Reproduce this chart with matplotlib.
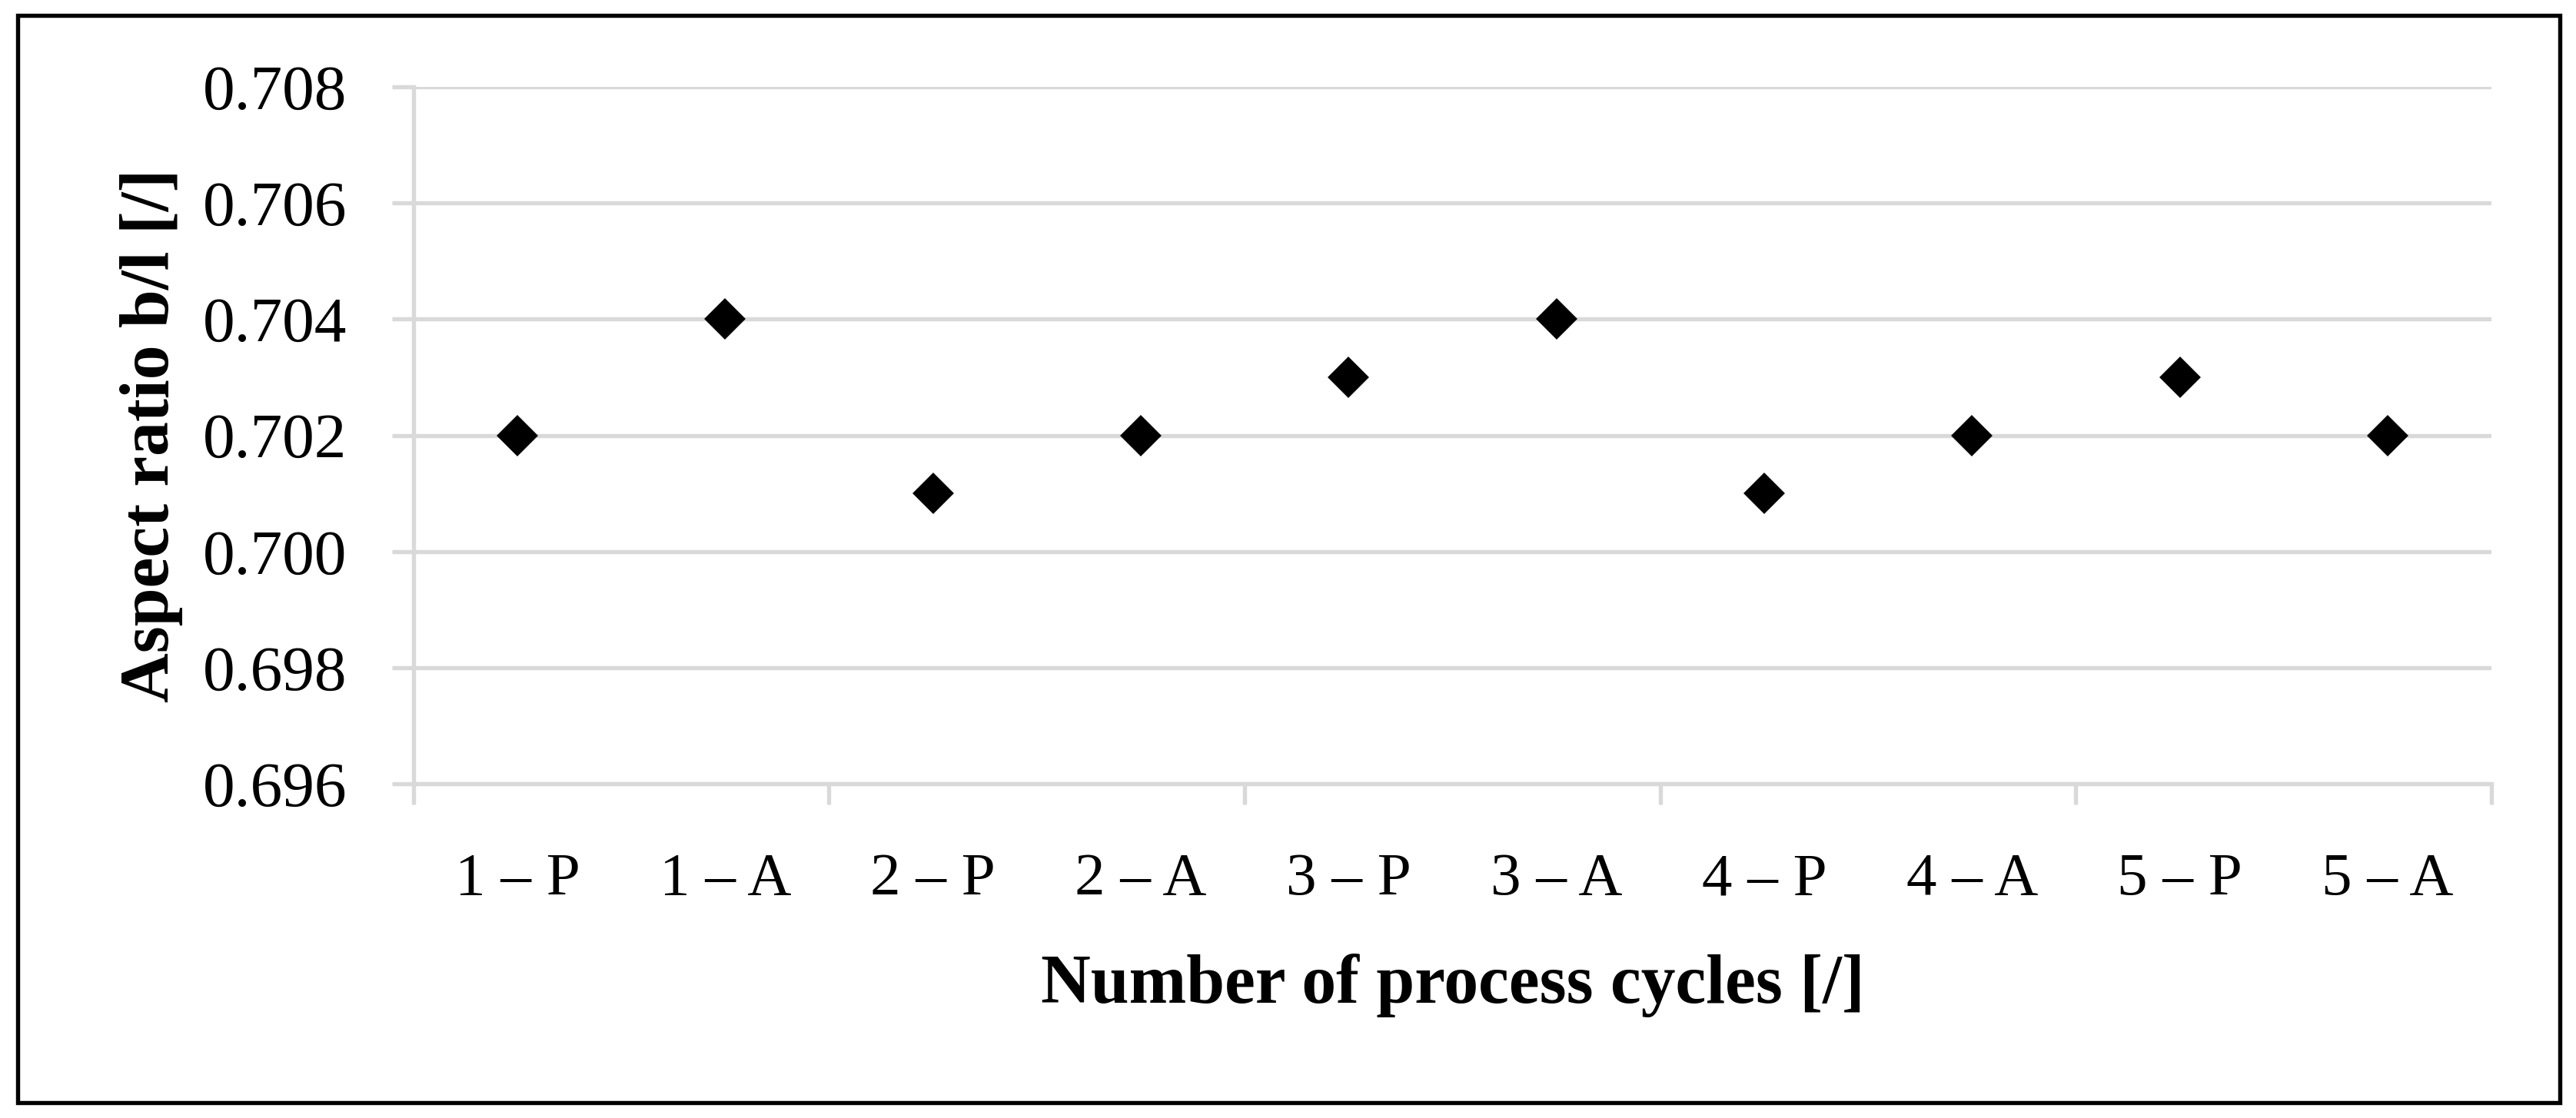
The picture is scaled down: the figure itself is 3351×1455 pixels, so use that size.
import matplotlib
matplotlib.use("Agg")
import matplotlib.pyplot as plt
from matplotlib.patches import Rectangle
import numpy as np

categories = ["1 – P", "1 – A", "2 – P", "2 – A", "3 – P",
              "3 – A", "4 – P", "4 – A", "5 – P", "5 – A"]
aspect_ratio = [0.702, 0.704, 0.701, 0.702, 0.703,
                0.704, 0.701, 0.702, 0.703, 0.702]
y_ticks = [0.696, 0.698, 0.700, 0.702, 0.704, 0.706, 0.708]

GRID = "#d9d9d9"
plt.rcParams["font.family"] = ["Liberation Serif", "DejaVu Serif"]

fig = plt.figure(figsize=(11.17, 4.85), dpi=300)
ax = fig.add_axes([0.1605, 0.299, 0.9672 - 0.1605, 0.9223 - 0.299])

x = np.arange(len(categories))
ax.plot(x, aspect_ratio, linestyle="none", marker="D", markersize=8,
        color="black", zorder=3)

ax.set_xlim(-0.5, len(categories) - 0.5)
ax.set_ylim(y_ticks[0], y_ticks[-1])
ax.set_yticks(y_ticks)
ax.set_yticklabels([f"{v:.3f}" for v in y_ticks])
ax.set_xticks(x)
ax.set_xticklabels(categories)
ax.set_xticks(np.arange(-0.5, len(categories), 2), minor=True)

ax.grid(axis="y", color=GRID, linewidth=1.3, zorder=0)
ax.set_axisbelow(True)
for s in ("top", "right"):
    ax.spines[s].set_visible(False)
for s in ("left", "bottom"):
    ax.spines[s].set_color(GRID)
    ax.spines[s].set_linewidth(1.3)

ax.tick_params(axis="y", length=6.7, width=1.3, color=GRID, pad=14,
               labelsize=20)
ax.tick_params(axis="x", which="major", length=0, pad=21.5, labelsize=19)
ax.tick_params(axis="x", which="minor", length=6.5, width=1.3, color=GRID)

ax.set_ylabel("Aspect ratio b/l [/]", fontsize=21.5, fontweight="bold")
ax.set_xlabel("Number of process cycles [/]", fontsize=21.5, fontweight="bold")
ax.yaxis.label.set(va="center", ha="center")
ax.xaxis.label.set(va="center", ha="center")
ax.yaxis.set_label_coords(-0.126, 0.5)
ax.xaxis.set_label_coords(0.5, -0.289)

# outer frame
fig.patches.append(Rectangle((23 / 3351, 20 / 1455), (3330 - 23) / 3351,
                             (1435 - 20) / 1455, transform=fig.transFigure,
                             fill=False, edgecolor="black", linewidth=1.3))

fig.savefig("out.png", dpi=300, facecolor="white")
